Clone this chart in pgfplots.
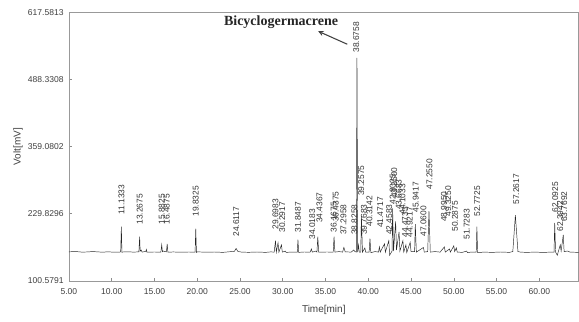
\documentclass[border=0pt]{standalone}
\usepackage{fontspec}
\setmainfont{Liberation Sans}
\newfontfamily\serifbold{Liberation Serif}
\usepackage{pgfplots}
\pgfplotsset{compat=1.18}
\newcommand{\lbl}{\fontsize{6.3}{7}\selectfont}
\begin{document}
\begin{tikzpicture}
\begin{axis}[
  scale only axis, width=382.35pt, height=201.5pt,
  xmin=5, xmax=64.6, ymin=100.5791, ymax=617.5813,
  clip=false,
  axis line style={black!40, line width=0.5pt},
  xtick={5,10,15,20,25,30,35,40,45,50,55,60},
  xticklabels={5.00,10.00,15.00,20.00,25.00,30.00,35.00,40.00,45.00,50.00,55.00,60.00},
  ytick={100.5791,229.8296,359.0802,488.3308,617.5813},
  yticklabels={100.5791,229.8296,359.0802,488.3308,617.5813},
  xtick pos=lower, ytick pos=left, tick align=inside,
  major tick length=2.5pt,
  tick style={black!45, line width=0.4pt},
  tick label style={font=\fontsize{6.4}{7}\selectfont, text=black!75},
  xticklabel style={yshift=-2.5pt},
  yticklabel style={xshift=-0.5pt},
  xlabel={Time[min]}, ylabel={Volt[mV]},
  label style={font=\fontsize{7.5}{8}\selectfont, text=black!75},
  xlabel style={at={(rel axis cs:0.5,0)}, anchor=center, yshift=-21.75pt},
  ylabel style={at={(rel axis cs:0,0.5)}, anchor=center, yshift=38.2pt},
]
\coordinate (LL) at (rel axis cs:0,0);
\coordinate (UR) at (rel axis cs:1,1);
\addplot[black!85, line width=0.35pt] coordinates {
(5.0,156.5) (5.6,157.0) (6.0,156.8) (6.5,156.0) (7.0,156.2) (7.8,157.0) (8.5,156.3) (9.0,155.8) (9.5,156.6) (10.0,156.1) (10.5,156.0)
(11.05,156.2) (11.13,205) (11.20,155.5) (11.3,156.2) (12.0,156.6) (12.5,156.0)
(13.18,156.4) (13.27,186) (13.33,158) (13.45,160) (13.55,156) (14.0,157.5) (14.05,161) (14.12,156)
(15.0,156.2) (15.75,156.0) (15.85,170) (15.93,157) (16.0,158) (16.40,156.5) (16.49,172) (16.57,155.8)
(17.2,156.3) (18.0,155.8) (19.0,156.2) (19.75,156.0) (19.83,201) (19.91,155.5) (20.0,156.5)
(21.0,155.8) (22.0,156.2) (23.0,155.5) (24.0,157.0) (24.35,157.5) (24.55,163) (24.75,157.2) (25.2,156.0)
(26.0,155.6) (27.0,156.2) (28.0,155.5) (28.6,156.4) (29.0,156.0) (29.15,178) (29.25,156) (29.45,174) (29.55,156)
(29.85,170) (29.95,156) (30.3,158) (30.4,155.5) (31.0,156) (31.7,155.8) (31.78,180) (31.86,155.5)
(32.5,156.2) (33.2,156) (33.35,162) (33.45,156) (33.9,158) (34.0,156) (34.1,186) (34.2,156)
(35.2,156.2) (35.9,156) (36.0,186) (36.1,156) (36.6,157) (37.0,156) (37.15,165) (37.3,156.5)
(38.0,156) (38.3,160) (38.45,157) (38.6,156) (38.68,530) (38.76,156) (38.85,170) (38.95,156)
(39.12,156) (39.2,225) (39.32,156) (39.6,164) (39.7,156) (40.1,156) (40.2,182) (40.3,155)
(40.8,157) (41.2,156) (41.3,166) (41.4,156) (41.9,172) (42.0,156) (42.4,178) (42.5,150)
(42.78,158) (42.85,240) (42.95,158) (43.2,215) (43.3,160) (43.6,195) (43.7,158) (44.05,178) (44.15,156)
(44.4,170) (44.5,155) (44.9,175) (45.0,157) (45.42,157) (45.5,210) (45.62,156) (46.0,160) (46.45,165) (46.55,156)
(46.95,157) (47.1,235) (47.25,156) (47.8,157) (48.4,156) (48.9,166) (49.0,156) (49.5,162) (49.6,156)
(50.0,168) (50.1,157) (50.3,164) (50.4,156) (51.0,155.5) (51.5,158) (51.6,155) (52.0,156)
(52.62,156) (52.7,205) (52.78,155) (53.5,156) (54.5,155.5) (55.5,156.2) (56.5,155.5) (56.9,157)
(57.2,227) (57.5,157) (57.8,156) (58.5,155.5) (59.5,156) (60.5,155.4) (61.3,156)
(61.72,156) (61.8,212) (61.9,156) (62.1,150) (62.45,170) (62.55,158) (62.8,189) (62.9,157)
(63.3,158) (63.6,156) (64.6,155.5)
};
\begin{scope}[every node/.style={rotate=90, anchor=west, inner sep=0pt, font=\lbl, text=black!80}]
\node at (axis cs:11.15,227.6) {11.1333};
\node at (axis cs:13.27,208.3) {13.2675};
\node at (axis cs:15.85,208.3) {15.8825};
\node at (axis cs:16.43,208.3) {16.4875};
\node at (axis cs:19.83,223.7) {19.8325};
\node at (axis cs:24.55,185.2) {24.6117};
\node at (axis cs:29.15,198.7) {29.6983};
\node at (axis cs:29.95,193.0) {30.2917};
\node at (axis cs:31.78,193.0) {31.8487};
\node at (axis cs:33.45,179.5) {34.0183};
\node at (axis cs:34.30,212.0) {34.4367};
\node at (axis cs:35.95,193.0) {36.1675};
\node at (axis cs:36.20,214.0) {36.4375};
\node at (axis cs:37.10,189.0) {37.2958};
\node at (axis cs:38.38,189.0) {38.8258};
\node at (axis cs:38.60,539.3) {38.6758};
\node at (axis cs:39.17,264.0) {39.2575};
\node at (axis cs:39.50,189.0) {39.7683};
\node at (axis cs:40.15,204.5) {40.3142};
\node at (axis cs:41.40,202.5) {41.4717};
\node at (axis cs:42.45,189.0) {42.4583};
\node at (axis cs:42.85,246.8) {42.8025};
\node at (axis cs:43.05,260.0) {43.2500};
\node at (axis cs:43.55,237.0) {43.6683};
\node at (axis cs:44.00,227.6) {44.1033};
\node at (axis cs:44.30,183.3) {44.4733};
\node at (axis cs:44.85,183.3) {44.9217};
\node at (axis cs:45.55,231.4) {45.9417};
\node at (axis cs:46.45,185.2) {47.0600};
\node at (axis cs:47.15,275.7) {47.2550};
\node at (axis cs:48.85,214.0) {48.9950};
\node at (axis cs:49.35,223.7) {49.3250};
\node at (axis cs:50.15,194.9) {50.2875};
\node at (axis cs:51.50,179.5) {51.7283};
\node at (axis cs:52.75,223.7) {52.7725};
\node at (axis cs:57.30,246.8) {57.2617};
\node at (axis cs:61.85,231.4) {62.0925};
\node at (axis cs:62.45,194.9) {62.3942};
\node at (axis cs:62.90,214.0) {63.7692};
\end{scope}
\node[anchor=base, inner sep=0pt, font={\serifbold\bfseries\fontsize{10.5}{12}\selectfont}, text=black!85] at (axis cs:29.8,593) {Bicyclogermacrene};
\draw[-stealth, black!75, line width=0.8pt] (axis cs:37.55,556) -- (axis cs:34.15,581);
\end{axis}
\pgfresetboundingbox
\path ([shift={(-51.7pt,-30.75pt)}]LL) rectangle ([shift={(0.25pt,9.2pt)}]UR);
\end{tikzpicture}
\end{document}
